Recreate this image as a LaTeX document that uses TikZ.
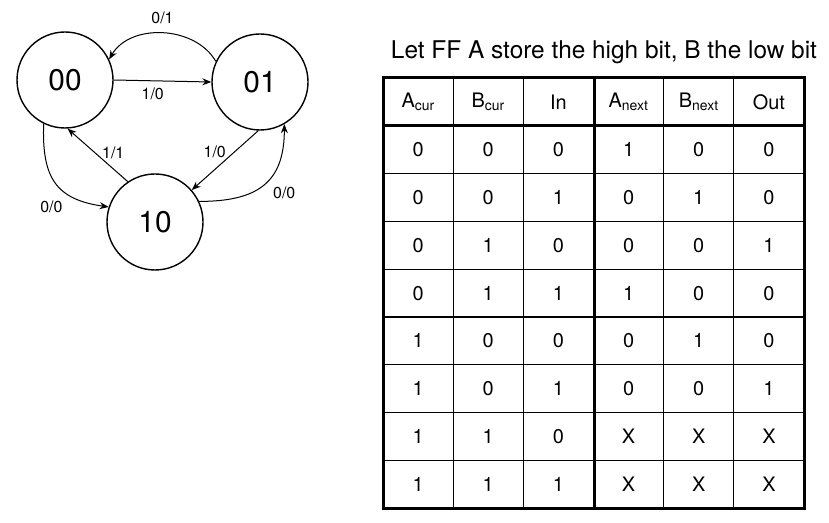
\documentclass[tikz,border=0pt]{standalone}
\usepackage{fontspec}
\setmainfont{TeX Gyre Heros}
\usetikzlibrary{arrows.meta}

\begin{document}
\begin{tikzpicture}[x=1bp, y=1bp, >={Stealth[length=9bp, width=7bp]},
    statenode/.style={draw, circle, line width=1.4bp, minimum size=96bp, inner sep=0pt, font=\fontsize{30}{32}\selectfont},
    arc/.style={->, line width=1bp},
    lbl/.style={font=\fontsize{16}{18}\selectfont, inner sep=1bp},
    cell/.style={font=\fontsize{20}{22}\selectfont, inner sep=0pt},
    thinrule/.style={line width=1.2bp},
    thickrule/.style={line width=3bp}]
    \useasboundingbox (0,0) rectangle (829,-523);

    % States
    \node[statenode] (s00) at (65,-80) {00};
    \node[statenode] (s01) at (260,-82) {01};
    \node[statenode] (s10) at (155,-222) {10};

    % Transitions
    \draw[arc] (s01.155) to[out=120, in=60] node[lbl, above=8bp] {0/1} (s00.25);
    \draw[arc] (s00.east) -- node[lbl, pos=0.4, below=6bp] {1/0} (s01.west);
    \draw[arc] (s01.-92) -- node[lbl, pos=0.36, left=7bp] {1/0} (s10.41);
    \draw[arc] (s10.124) -- node[lbl, pos=0.55, right=6bp] {1/1} (s00.-87);
    \draw[arc] (s00.-116) to[out=-92, in=172, looseness=1.3] node[lbl, pos=0.68, below left=5bp] {0/0} (s10.162);
    \draw[arc] (s10.25) to[out=0, in=-90, looseness=1.3] node[lbl, pos=0.55, below right=4bp] {0/0} (s01.-60);

    % Title
    \node[font=\fontsize{24.5}{26}\selectfont, anchor=base] (title) at (604,-59) {Let FF A store the high bit, B the low bit};

    % Table header
    \foreach \txt [count=\c] in {A\textsubscript{cur}, B\textsubscript{cur}, In, A\textsubscript{next}, B\textsubscript{next}, Out}
        \node[cell] (head-\c) at ({383+70.17*(\c-0.5)}, -102) {\txt};

    % Table body
    \foreach \row [count=\r] in {{0,0,0,1,0,0}, {0,0,1,0,1,0}, {0,1,0,0,0,1}, {0,1,1,1,0,0},
                                 {1,0,0,0,1,0}, {1,0,1,0,0,1}, {1,1,0,X,X,X}, {1,1,1,X,X,X}}
        \foreach \val [count=\c] in \row
            \node[cell] (cell-\r-\c) at ({383+70.17*(\c-0.5)}, {-126-47.75*(\r-0.5)}) {\val};

    % Rules
    \foreach \c in {1,2,4,5}
        \draw[thinrule] ({383+70.17*\c}, -78) -- ({383+70.17*\c}, -508);
    \foreach \r in {1,...,7}
        \draw[thinrule] (383, {-126-47.75*\r}) -- (804, {-126-47.75*\r});
    \draw[thickrule] (594,-78) -- (594,-508);
    \draw[thickrule] (383,-126) -- (804,-126);
    \draw[thickrule] (383,-78) rectangle (804,-508);
\end{tikzpicture}
\end{document}
